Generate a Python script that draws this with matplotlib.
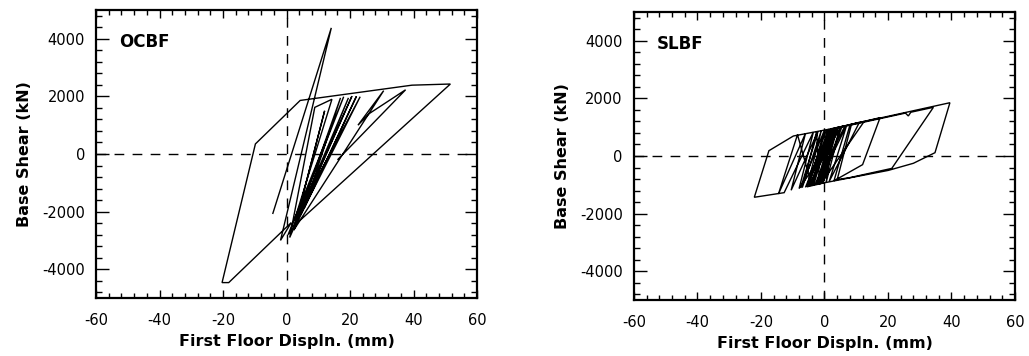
import matplotlib
matplotlib.use("Agg")
import matplotlib.pyplot as plt
from matplotlib.ticker import MultipleLocator

# ==========================
# DATA
# ==========================

# OCBF hysteresis path (first floor displacement [mm], base shear [kN])
ocbf_disp = [-4.3, 14.1, -1.9, 1.5, -18.2, -20.3, -9.8, 4.3, 39.5, 51.6,
             3.3, 0.5, 18.0, 2.0, 20.6, 1.0, 8.9, 14.3, 2.5, 23.2,
             4.5, 19.5, 3.0, 12.0, 2.3, 22.0, 5.5, 17.0, 2.3, 30.6,
             22.5, 26.0, 37.5, 16.2]
ocbf_shear = [-2060, 4380, -3000, -2380, -4465, -4465, 350, 1860, 2390, 2430,
              -2400, -2800, 1990, -2550, 2010, -2900, 1620, 1900, -2300, 1990,
              -2100, 1950, -2350, 1500, -2640, 2000, -1900, 1950, -2640, 2200,
              1000, 1400, 2230, -185]

# SLBF hysteresis path
slbf_disp = [0.0, 4.0, -2.5, 2.5, -4.5, 1.5, -6.0, 3.0, -1.0, 5.5,
             -8.0, -3.5, -12.7, -22.1, -17.5, -9.8, 0.5, 6.5, -3.0, 4.5,
             -5.0, 0.0, -7.5, -2.0, -10.5, -6.0, -14.5, -8.5, -4.0, 2.0,
             -0.5, 4.0, 11.0, 1.5, 7.0, -2.0, 3.0, 17.5, 12.0, 3.0,
             8.0, 12.5, -1.0, 1.0, -3.5, 2.0, -5.5, -1.0, -7.0, -2.5,
             -1.5, 3.0, 0.5, 5.0, -0.5, 3.5, 25.5, 26.4, 27.2, 34.3,
             21.2, 8.0, 4.0, 8.5, 39.5, 34.8, 28.0, 20.1, 0.2, -5.5, 0.5]
slbf_shear = [0, 990, -990, 955, -1040, 935, -1090, 970, -950, 1020,
              -1130, 830, -1273, -1433, 184, 694, 910, 1050, -1000, 1000,
              -1060, 900, -1110, 860, -1190, 780, -1320, 740, -1030, 945,
              -940, 985, 1170, -880, 1070, -970, 960, 1330, -300, -860,
              1070, 1200, -950, 920, -1030, 940, -1070, 880, -1100, 840,
              -990, 960, -930, 1010, -960, 960, 1490, 1390, 1520, 1690,
              -430, -750, -820, 1100, 1850, 115, -253, -500, -926, -1070, 880]

panels = [
    ("OCBF", ocbf_disp, ocbf_shear, [0.0933, 0.1629, 0.3703, 0.8090]),
    ("SLBF", slbf_disp, slbf_shear, [0.6161, 0.1573, 0.3703, 0.8090]),
]

x_ticks = [-60, -40, -20, 0, 20, 40, 60]
y_ticks = [-4000, -2000, 0, 2000, 4000]

# ==========================
# FIGURE
# ==========================

plt.rcParams.update({
    "font.family": "DejaVu Sans",
    "font.size": 10.5,
    "axes.unicode_minus": False,
})

fig = plt.figure(figsize=(10.29, 3.56), dpi=100)

for name, xd, yd, rect in panels:
    ax = fig.add_axes(rect)
    ax.plot(xd, yd, color="black", lw=1.0, solid_joinstyle="miter")
    ax.axhline(0, color="black", lw=1.0, ls=(0, (7, 6)))
    ax.axvline(0, color="black", lw=1.0, ls=(0, (7, 6)))

    ax.set_xlim(-60, 60)
    ax.set_ylim(-5000, 5000)
    ax.set_xticks(x_ticks)
    ax.set_yticks(y_ticks)
    ax.xaxis.set_minor_locator(MultipleLocator(4))
    ax.yaxis.set_minor_locator(MultipleLocator(400))

    ax.tick_params(which="both", direction="in", top=True, right=True,
                   width=1.0, colors="black")
    ax.tick_params(axis="x", which="major", length=6, pad=11)
    ax.tick_params(axis="x", which="minor", length=3.5)
    ax.tick_params(axis="y", which="major", length=9, pad=8)
    ax.tick_params(axis="y", which="minor", length=4.5)
    for sp in ax.spines.values():
        sp.set_linewidth(1.6)

    ax.set_xlabel("First Floor Displn. (mm)", fontweight="bold",
                  fontsize=11.5, labelpad=4)
    ax.set_ylabel("Base Shear (kN)", fontweight="bold",
                  fontsize=11.5, labelpad=7)
    ax.text(0.06, 0.889, name, transform=ax.transAxes, ha="left",
            va="center", fontweight="bold", fontsize=12)

fig.savefig("out.png", dpi=100, facecolor="white")
